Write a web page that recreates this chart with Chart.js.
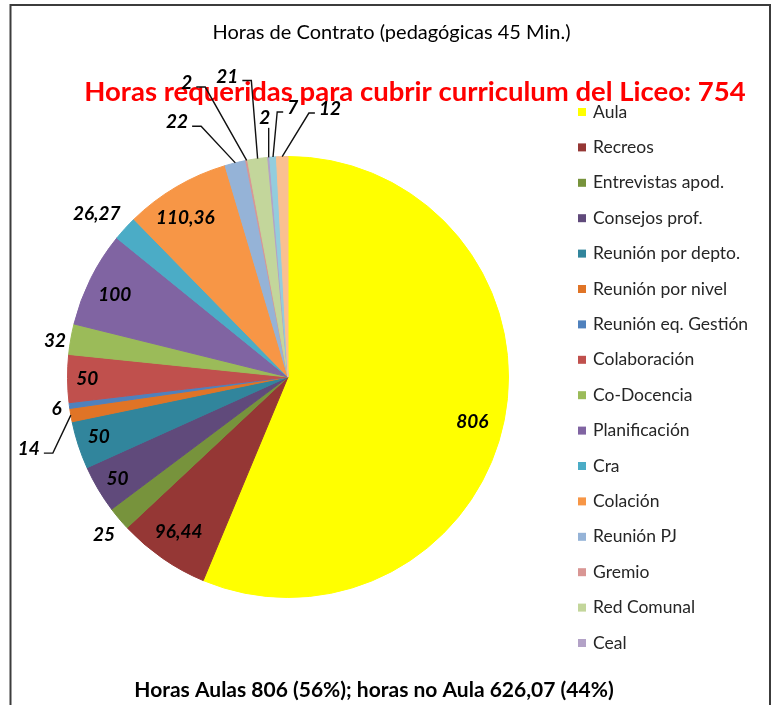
<!DOCTYPE html>
<html>
<head>
<meta charset="utf-8">
<script src="https://cdn.jsdelivr.net/npm/chart.js@4.4.1/dist/chart.umd.min.js"></script>
<style>
  html, body { margin: 0; padding: 0; background: #ffffff; }
  #wrap { position: relative; width: 777px; height: 705px; }
  canvas { display: block; }
</style>
</head>
<body>
<div id="wrap"><canvas id="chart" width="777" height="705"></canvas></div>
<script>
// Distribución de horas de contrato (horas pedagógicas de 45 min)
const categories = [
  'Aula', 'Recreos', 'Entrevistas apod.', 'Consejos prof.', 'Reunión por depto.',
  'Reunión por nivel', 'Reunión eq. Gestión', 'Colaboración', 'Co-Docencia',
  'Planificación', 'Cra', 'Colación', 'Reunión PJ', 'Gremio', 'Red Comunal', 'Ceal',
  '', ''
];
const hours = [806, 96.44, 25, 50, 50, 14, 6, 50, 32, 100, 26.27, 110.36, 22, 2, 21, 2, 7, 12];
const requiredHours = 754;

const sliceColors = [
  '#FFFF00', '#953735', '#77933C', '#604A7B', '#31859C', '#E07426',
  '#4F81BD', '#C0504D', '#9BBB59', '#8064A2', '#4BACC6', '#F79646',
  '#95B3D7', '#D99694', '#C3D69B', '#B3A2C7', '#93CDDD', '#FAC090'
];

// Label placement per slice: radial distance (fraction of radius),
// angular nudge in degrees, and whether a leader line is drawn.
const labelPlacement = [
  { r: 0.86, da: 2.4 }, { r: 0.86, da: 0.5 }, { r: 1.10, da: -0.7 },
  { r: 0.90, da: -0.2 }, { r: 0.90, da: 0.5 }, { r: 1.22, da: -5.6, leader: true },
  { r: 1.06, da: -0.4 }, { r: 0.91, da: 0 }, { r: 1.07, da: -1 },
  { r: 0.87, da: -1.1 }, { r: 1.14, da: -1.9 }, { r: 0.86, da: -2.3 },
  { r: 1.26, da: -9.7, leader: true }, { r: 1.41, da: -8.2, leader: true },
  { r: 1.39, da: -3.5, leader: true }, { r: 1.18, da: -0.1, leader: true },
  { r: 1.22, da: 4.9, leader: true }, { r: 1.23, da: 10.4, leader: true }
];

const FONT = 'Lato, "Liberation Sans", sans-serif';
const fmt = v => String(v).replace('.', ',');

const frameAndTitles = {
  id: 'frameAndTitles',
  beforeDraw(chart) {
    const ctx = chart.ctx;
    ctx.save();
    ctx.fillStyle = '#ffffff';
    ctx.fillRect(0, 0, chart.width, chart.height);
    ctx.strokeStyle = '#3c3c3c';
    ctx.lineWidth = 2;
    ctx.strokeRect(10.5, 5, 759.5, 740);
    ctx.restore();
  },
  afterDraw(chart) {
    const ctx = chart.ctx;
    ctx.save();
    ctx.textAlign = 'center';
    ctx.textBaseline = 'middle';
    ctx.fillStyle = '#000000';
    ctx.font = '20px ' + FONT;
    ctx.fillText('Horas de Contrato (pedagógicas 45 Min.)', 391.5, 33);

    const aula = hours[0];
    const rest = Math.round(hours.slice(1).reduce((a, b) => a + b, 0) * 100) / 100;
    const total = aula + rest;
    const pA = Math.round(aula / total * 100);
    const pR = 100 - pA;
    ctx.font = 'bold 21px ' + FONT;
    ctx.fillText('Horas Aulas ' + fmt(aula) + ' (' + pA + '%); horas no Aula ' + fmt(rest.toFixed(2)) + ' (' + pR + '%)', 374, 690);
    ctx.restore();
  }
};

const redHeading = {
  id: 'redHeading',
  afterDatasetsDraw(chart) {
    const ctx = chart.ctx;
    ctx.save();
    ctx.textAlign = 'center';
    ctx.textBaseline = 'middle';
    ctx.fillStyle = '#FF0000';
    ctx.font = 'bold 27.5px ' + FONT;
    ctx.fillText('Horas requeridas para cubrir curriculum del Liceo: ' + requiredHours, 415, 92);
    ctx.restore();
  }
};

const sliceLabels = {
  id: 'sliceLabels',
  afterDraw(chart) {
    const ctx = chart.ctx;
    const meta = chart.getDatasetMeta(0);
    ctx.save();
    ctx.font = 'italic bold 19px ' + FONT;
    ctx.textAlign = 'center';
    ctx.textBaseline = 'middle';
    meta.data.forEach((arc, i) => {
      const p = arc.getProps(['x', 'y', 'startAngle', 'endAngle', 'outerRadius'], true);
      const place = labelPlacement[i];
      const mid = (p.startAngle + p.endAngle) / 2;
      const a = mid + place.da * Math.PI / 180;
      const lx = p.x + Math.cos(a) * p.outerRadius * place.r;
      const ly = p.y + Math.sin(a) * p.outerRadius * place.r;
      const text = fmt(chart.data.datasets[0].data[i]);
      const w = ctx.measureText(text).width;
      if (place.leader) {
        const px = p.x + Math.cos(mid) * p.outerRadius;
        const py = p.y + Math.sin(mid) * p.outerRadius;
        ctx.strokeStyle = '#111111';
        ctx.lineWidth = 1.4;
        ctx.beginPath();
        if (Math.abs(lx - px) < w / 2 + 1) {
          ctx.moveTo(px, ly + 10);
          ctx.lineTo(px, py);
        } else if (lx < px) {
          const sx = lx + w / 2 + 4;
          ctx.moveTo(sx, ly + 4);
          ctx.lineTo(sx + 9, ly + 4);
          ctx.lineTo(px, py);
        } else {
          const sx = lx - w / 2 - 4;
          ctx.moveTo(sx, ly + 4);
          ctx.lineTo(sx - 6, ly + 4);
          ctx.lineTo(px, py);
        }
        ctx.stroke();
      }
      ctx.fillStyle = '#000000';
      ctx.fillText(text, lx, ly);
    });
    ctx.restore();
  }
};

const sideLegend = {
  id: 'sideLegend',
  afterDraw(chart) {
    const ctx = chart.ctx;
    const labels = chart.data.labels;
    const colors = chart.data.datasets[0].backgroundColor;
    ctx.save();
    ctx.font = '17.5px ' + FONT;
    ctx.textAlign = 'left';
    ctx.textBaseline = 'middle';
    let row = 0;
    labels.forEach((lab, i) => {
      if (!lab) return;
      const y = 112 + row * 35.4;
      ctx.fillStyle = colors[i];
      ctx.fillRect(578, y - 4, 8, 8);
      ctx.fillStyle = '#262626';
      ctx.fillText(lab, 593, y);
      row++;
    });
    ctx.restore();
  }
};

new Chart(document.getElementById('chart'), {
  type: 'pie',
  data: {
    labels: categories,
    datasets: [{
      data: hours,
      backgroundColor: sliceColors,
      borderColor: sliceColors,
      borderWidth: 1
    }]
  },
  options: {
    responsive: false,
    animation: false,
    layout: { padding: { left: 67, right: 268, top: 156, bottom: 107 } },
    plugins: {
      legend: { display: false },
      tooltip: { enabled: false },
      title: { display: false }
    }
  },
  plugins: [frameAndTitles, redHeading, sliceLabels, sideLegend]
});
</script>
</body>
</html>
